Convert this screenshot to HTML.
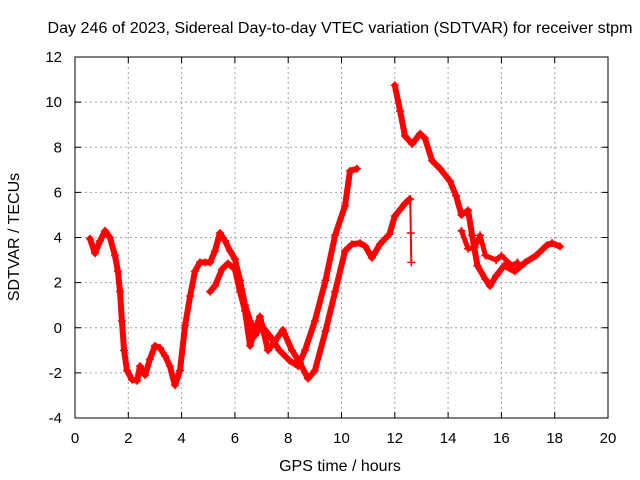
<!DOCTYPE html>
<html><head><meta charset="utf-8"><style>
body{margin:0;background:#fff}
svg{display:block;font-family:"Liberation Sans",sans-serif}
</style></head><body>
<svg id="c" width="640" height="480">
<text x="340" y="33" text-anchor="middle" font-size="16" textLength="585" lengthAdjust="spacingAndGlyphs">Day 246 of 2023, Sidereal Day-to-day VTEC variation (SDTVAR) for receiver stpm</text>
<text x="340" y="471" text-anchor="middle" font-size="16">GPS time / hours</text>
<text transform="translate(19,237) rotate(-90)" text-anchor="middle" font-size="16">SDTVAR / TECUs</text>
<g id="grid"></g><g id="data"></g>
<rect x="75" y="57" width="533" height="361" fill="none" stroke="#000" stroke-width="1"/>
</svg>
<script>
const xTicks=[0,2,4,6,8,10,12,14,16,18,20];
const yTicks=[-4,-2,0,2,4,6,8,10,12];
const trace1Hours=[0.56,0.75,0.94,1.13,1.31,1.5,1.61,1.69,1.76,1.84,1.95,2.14,2.33,2.44,2.63,2.81,3.0,3.19,3.38,3.56,3.75,3.94,4.13,4.32,4.5,4.69,4.88,5.07,5.25,5.44,5.63,5.82,6.0,6.19,6.38,6.57,6.75,7.0,7.3,7.67,8.05,8.37,8.63,9.0,9.4,9.76,10.13,10.32,10.58];
const trace1Values=[3.95,3.3,3.85,4.3,4.0,3.2,2.5,1.6,0.3,-1.0,-1.9,-2.3,-2.35,-1.7,-2.1,-1.4,-0.8,-0.9,-1.25,-1.7,-2.55,-1.9,0.1,1.4,2.5,2.9,2.9,2.9,3.4,4.2,3.85,3.4,3.05,2.1,1.0,0.3,-0.35,0.1,-0.35,-1.0,-1.45,-1.7,-1.0,0.3,2.1,4.1,5.4,6.95,7.05];
const trace2Hours=[5.07,5.25,5.52,5.74,6.0,6.19,6.38,6.57,6.75,6.94,7.24,7.5,7.8,8.14,8.44,8.74,9.0,9.4,9.76,10.13,10.39,10.7,10.9,11.14,11.44,11.8,12.0,12.38,12.55];
const trace2Values=[1.6,1.85,2.6,2.85,2.6,1.6,0.75,-0.8,-0.1,0.5,-1.0,-0.6,-0.1,-1.0,-1.55,-2.25,-1.9,-0.15,1.6,3.4,3.7,3.75,3.6,3.1,3.7,4.15,4.95,5.5,5.7];
const spikeHours=[12.58,12.6,12.62];
const spikeValues=[5.7,4.2,2.9];
const trace3Hours=[12.0,12.2,12.38,12.65,12.95,13.13,13.4,13.7,14.07,14.3,14.5,14.75,14.9,15.1,15.4,15.57,15.8,16.1,16.5,16.9,17.3,17.7,17.9,18.2];
const trace3Values=[10.75,9.6,8.5,8.15,8.6,8.4,7.4,7.05,6.5,5.85,5.0,5.2,4.1,2.75,2.15,1.85,2.3,2.75,2.5,2.9,3.2,3.65,3.75,3.6];
const branchHours=[14.5,14.75,15.0,15.2,15.4,15.8,16.0,16.4,16.6];
const branchValues=[4.3,3.5,3.55,4.1,3.2,3.0,3.2,2.75,2.9];

const X=h=>75+h*(533/20), Y=v=>418-(v+4)*(361/16);
const NS="http://www.w3.org/2000/svg";
const grid=document.getElementById('grid'), data=document.getElementById('data');
function mk(tag,attrs,parent){const e=document.createElementNS(NS,tag);for(const k in attrs)e.setAttribute(k,attrs[k]);parent.appendChild(e);return e;}
xTicks.forEach(t=>{
  const x=X(t);
  if(t>0&&t<20){const g=mk('line',{x1:x,x2:x,y1:57,y2:418,stroke:'#a0a0a0','stroke-dasharray':'2,3'},grid);
  
  }
  mk('line',{x1:x,x2:x,y1:418,y2:412,stroke:'#000'},grid);
  mk('line',{x1:x,x2:x,y1:57,y2:63,stroke:'#000'},grid);
  const l=mk('text',{x:x,y:443,'text-anchor':'middle','font-size':15},grid);l.textContent=t;
  
  
});
yTicks.forEach(t=>{
  const y=Y(t);
  if(t>-4&&t<12){const g=mk('line',{x1:75,x2:608,y1:y,y2:y,stroke:'#a0a0a0','stroke-dasharray':'2,3'},grid);
  
  }
  mk('line',{x1:75,x2:81,y1:y,y2:y,stroke:'#000'},grid);
  mk('line',{x1:608,x2:602,y1:y,y2:y,stroke:'#000'},grid);
  const l=mk('text',{x:62,y:y+5,'text-anchor':'end','font-size':15},grid);l.textContent=t;
  
  
});
function series(hs,vs,name,w){
  const pts=hs.map((h,i)=>X(h)+','+Y(vs[i])).join(' ');
  const p=mk('polyline',{points:pts,fill:'none',stroke:'#f00','stroke-width':w,'stroke-linejoin':'round','stroke-linecap':'round'},data);
  
  
  hs.forEach((h,i)=>{const x=X(h),y=Y(vs[i]);
    const m=mk('path',{d:`M${x-4},${y}h8M${x},${y-4}v8`,stroke:'#f00','stroke-width':1.5},data);
    
    });
}
series(trace1Hours,trace1Values,'trace-1',6);
series(trace2Hours,trace2Values,'trace-2',6);
series(spikeHours,spikeValues,'spike',2);
series(trace3Hours,trace3Values,'trace-3',6);
series(branchHours,branchValues,'trace-3-branch',5);
</script>
</body></html>
